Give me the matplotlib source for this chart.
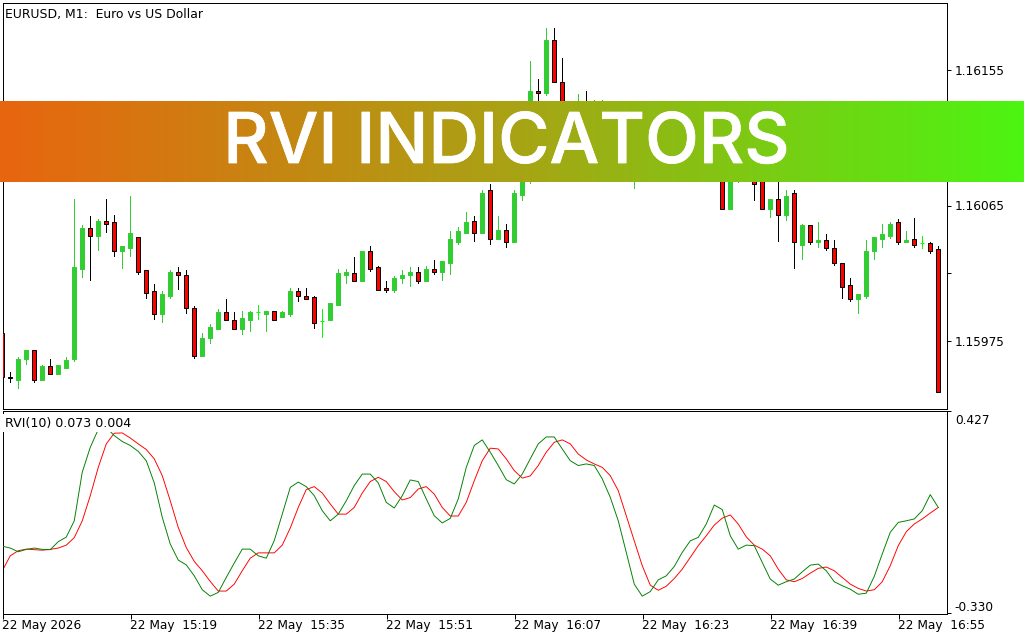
import numpy as np
import matplotlib
matplotlib.use("Agg")
import matplotlib.pyplot as plt
import matplotlib.patheffects as pe
from matplotlib.colors import LinearSegmentedColormap
from matplotlib.transforms import ScaledTranslation

W, H = 1024, 640
BASE = 1.159
POINT = 1e-5

# Candle values in points above 1.15900 (bars 70-93 sit mostly behind the banner: estimates)
open_pts = [80,51,49,63,69,49,58,53,57,63,123,150,145,155,154,135,137,144,122,108,
            93,105,121,119,97,65,77,83,94,89,83,89,94,93,95,91,93,108,105,104,
            88,89,99,119,120,115,135,124,110,109,117,119,121,115,123,121,127,141,147,155,
            147,175,143,149,141,172,220,241,240,275,247,225,226,232,222,222,230,220,212,200,
            210,202,210,204,212,208,200,206,198,192,188,163,185,192,188,190,163,169,159,173,
            139,152,141,142,137,127,112,103,105,135,143,145,154,141,143,140,140,136]
high_pts = [80,54,64,69,69,59,63,59,64,169,152,158,156,169,159,138,171,144,122,113,
            108,122,124,122,98,80,86,96,103,94,95,95,99,95,95,95,110,110,110,105,
            96,100,123,123,131,135,138,125,115,118,122,124,124,125,129,128,148,151,161,158,
            175,179,158,153,175,225,261,249,283,283,263,232,239,241,235,235,233,228,222,215,
            216,214,218,216,220,214,212,210,206,200,195,195,198,200,195,196,169,190,175,175,
            153,152,154,146,142,127,117,106,142,144,153,154,156,148,157,145,141,138]
low_pts = [51,47,43,59,47,49,53,53,57,61,117,115,135,147,131,123,131,119,103,89,
           87,103,109,93,63,65,73,83,89,82,79,81,89,81,88,91,91,101,102,83,
           77,89,99,113,115,115,121,109,107,107,113,111,113,115,119,115,119,139,147,141,
           147,139,143,137,141,168,179,225,238,247,220,215,220,215,218,215,212,208,200,176,
           198,195,200,198,205,196,194,192,186,184,163,163,180,183,168,162,157,141,155,123,
           129,139,137,135,125,103,101,93,103,129,137,143,139,141,137,136,133,41]
close_pts = [51,50,63,69,49,58,53,59,62,124,150,145,155,153,135,138,147,121,107,93,
             106,121,119,97,65,77,84,94,89,83,90,94,94,95,89,94,108,105,103,87,
             88,100,120,121,115,135,123,109,109,117,119,121,115,123,121,128,143,148,154,147,
             173,143,149,141,173,220,241,240,275,247,225,228,232,222,228,230,220,212,206,210,
             202,210,204,212,208,200,206,198,192,188,163,190,192,188,179,163,169,159,171,141,
             152,141,142,137,127,111,103,106,135,144,146,153,141,142,139,140,135,41]

# RVI main (green) and signal (red) lines
rvi_main = [-0.081,-0.088,-0.102,-0.093,-0.088,-0.093,-0.094,-0.064,-0.047,0.014,
            0.196,0.289,0.356,0.364,0.333,0.311,0.296,0.274,0.239,0.156,
            0.027,-0.073,-0.133,-0.151,-0.192,-0.244,-0.268,-0.254,-0.198,-0.144,
            -0.092,-0.092,-0.117,-0.126,-0.060,0.039,0.139,0.159,0.142,0.108,
            0.052,0.014,0.039,
            0.089,0.146,0.189,0.189,0.156,0.083,0.062,0.108,0.167,0.161,
            0.096,0.033,0.006,0.023,0.096,0.214,0.296,0.317,0.271,0.221,
            0.168,0.152,0.189,0.246,0.302,0.328,0.328,0.283,0.239,0.221,
            0.227,0.221,0.171,0.102,0.014,-0.104,-0.223,-0.268,-0.251,-0.207,
            -0.192,-0.157,
            -0.104,-0.061,-0.048,0.002,0.073,0.056,-0.042,-0.092,-0.077,-0.079,
            -0.142,-0.204,-0.227,-0.214,-0.204,-0.177,-0.152,-0.148,-0.173,-0.214,
            -0.229,-0.242,-0.261,-0.257,-0.194,-0.110,-0.029,0.008,0.014,0.021,
            0.052,0.112,0.064]
rvi_signal = [-0.173,-0.117,-0.098,-0.092,-0.094,-0.096,-0.093,-0.088,-0.077,-0.049,
              0.014,0.108,0.214,0.302,0.342,0.343,0.324,0.302,0.281,0.246,
              0.183,0.089,-0.011,-0.086,-0.138,-0.173,-0.213,-0.249,-0.249,-0.223,
              -0.173,-0.126,-0.106,-0.106,-0.106,-0.077,-0.013,0.064,0.131,0.142,
              0.118,0.077,0.039,
              0.039,0.064,0.118,0.161,0.177,0.161,0.123,0.092,0.101,0.133,
              0.142,0.114,0.064,0.032,0.032,0.083,0.164,0.239,0.286,0.283,
              0.246,0.202,0.174,0.182,0.221,0.271,0.308,0.317,0.302,0.264,
              0.242,0.227,0.214,0.183,0.127,0.033,-0.061,-0.154,-0.227,-0.246,
              -0.231,-0.202,
              -0.167,-0.123,-0.079,-0.042,-0.002,0.024,0.036,0.002,-0.046,-0.077,
              -0.092,-0.117,-0.167,-0.207,-0.214,-0.202,-0.182,-0.164,-0.159,-0.173,
              -0.198,-0.223,-0.239,-0.249,-0.244,-0.214,-0.154,-0.079,-0.027,0.002,
              0.021,0.043,0.064]

time_labels = ["22 May 2026","22 May  15:19","22 May  15:35","22 May  15:51",
               "22 May  16:07","22 May  16:23","22 May  16:39","22 May  16:55"]
time_ticks = [0,16,32,48,64,80,96,112]
price_ticks = [1.16155,1.1611,1.16065,1.1602,1.15975]
price_labels = ["1.16155","","1.16065","","1.15975"]
rvi_ticks = [0.427,-0.330]
rvi_labels = ["0.427","-0.330"]
title_text = "EURUSD, M1:  Euro vs US Dollar"
rvi_text = "RVI(10) 0.073 0.004"
banner_text = "RVI INDICATORS"

FONT = "DejaVu Sans"
FS = 8.7
PX = 0.72
X0 = 0.03

fig = plt.figure(figsize=(W/100, H/100), dpi=100, facecolor="white")

def axes_px(l, t, r, b):
    return fig.add_axes([l/W, 1-b/H, (r-l)/W, (b-t)/H])

ax = axes_px(2.5, 2.5, 946.5, 408.5)
ax2 = axes_px(2.5, 410.5, 946.5, 613.5)

n = len(close_pts)
idx = np.arange(n)
o = BASE + np.array(open_pts)*POINT
h = BASE + np.array(high_pts)*POINT
l = BASE + np.array(low_pts)*POINT
c = BASE + np.array(close_pts)*POINT
op, cl = np.array(open_pts), np.array(close_pts)

wick_col = ["#00ff00" if a == b else ("#32cd32" if b > a else "black") for a, b in zip(op, cl)]
edge_col = list(wick_col)
face_col = ["#00ff00" if a == b else ("#32cd32" if b > a else "#ff0000") for a, b in zip(op, cl)]

wicks = ax.bar(idx, h-l, bottom=l, width=1/8, color=wick_col, linewidth=0, zorder=2)
for b in wicks:
    b.set_snap(True)
bars = ax.bar(idx, np.abs(c-o), bottom=np.minimum(o, c), width=0.5,
              color=face_col, edgecolor=edge_col, linewidth=PX, zorder=3)
for b in bars:
    b.set_snap(True)

ax.set_xlim(X0, 118+X0)
ax.set_ylim(BASE+29.67*POINT, BASE+300.33*POINT)
ax.set_xticks([])
ax.yaxis.tick_right()
ax.set_yticks(price_ticks)
ax.set_yticklabels(price_labels, fontfamily=FONT, fontsize=FS)
ax.tick_params(axis="y", length=3, width=PX, pad=3, colors="black")
ax.text(0.003, 1-12/406, title_text, transform=ax.transAxes, fontfamily=FONT,
        fontsize=8.95, va="center", ha="left", zorder=6)

ax2.plot(idx, rvi_signal, color="#ff0000", lw=0.68, zorder=2)
ax2.plot(idx, rvi_main, color="#008000", lw=0.68, zorder=3)
ax2.set_xlim(X0, 118+X0)
ax2.set_ylim(-0.333, 0.427)
ax2.yaxis.tick_right()
ax2.set_yticks(rvi_ticks)
ax2.set_yticklabels(rvi_labels, fontfamily=FONT, fontsize=FS)
ax2.tick_params(axis="y", length=3, width=PX, pad=3)
ylabs = ax2.get_yticklabels()
ylabs[0].set_transform(ylabs[0].get_transform() + ScaledTranslation(0, -8/100, fig.dpi_scale_trans))
ylabs[1].set_transform(ylabs[1].get_transform() + ScaledTranslation(0, 7/100, fig.dpi_scale_trans))
ax2.set_xticks([t+X0 for t in time_ticks])
ax2.set_xticklabels(time_labels, fontfamily=FONT, fontsize=FS, ha="left")
ax2.tick_params(axis="x", length=3.5, width=PX, pad=0.5)
ax2.text(0.003, 1-12.5/203, rvi_text, transform=ax2.transAxes, fontfamily=FONT, fontsize=9.1,
         va="center", ha="left", zorder=6,
         bbox=dict(facecolor="white", edgecolor="none", pad=1.5))

for a in (ax, ax2):
    for s in a.spines.values():
        s.set_linewidth(PX)
        s.set_color("black")
    a.set_facecolor("white")

# Banner with a left-to-right gradient
ban = axes_px(0, 101, 1024, 182.5)
ban.set_axis_off()
ban.set_zorder(10)
cmap = LinearSegmentedColormap.from_list("ban", ["#e8650f", "#a9a315", "#4cf512"])
ban.imshow(np.linspace(0, 1, 512).reshape(1, -1), aspect="auto", cmap=cmap, extent=[0, 1, 0, 1])
ban.text(0.4945, 0.239, banner_text, transform=ban.transAxes, color="white", fontfamily="Inter",
         fontsize=50.5, fontweight="medium", ha="center", va="baseline",
         path_effects=[pe.withStroke(linewidth=0.5, foreground="white")])

fig.savefig("out.png", dpi=100)
